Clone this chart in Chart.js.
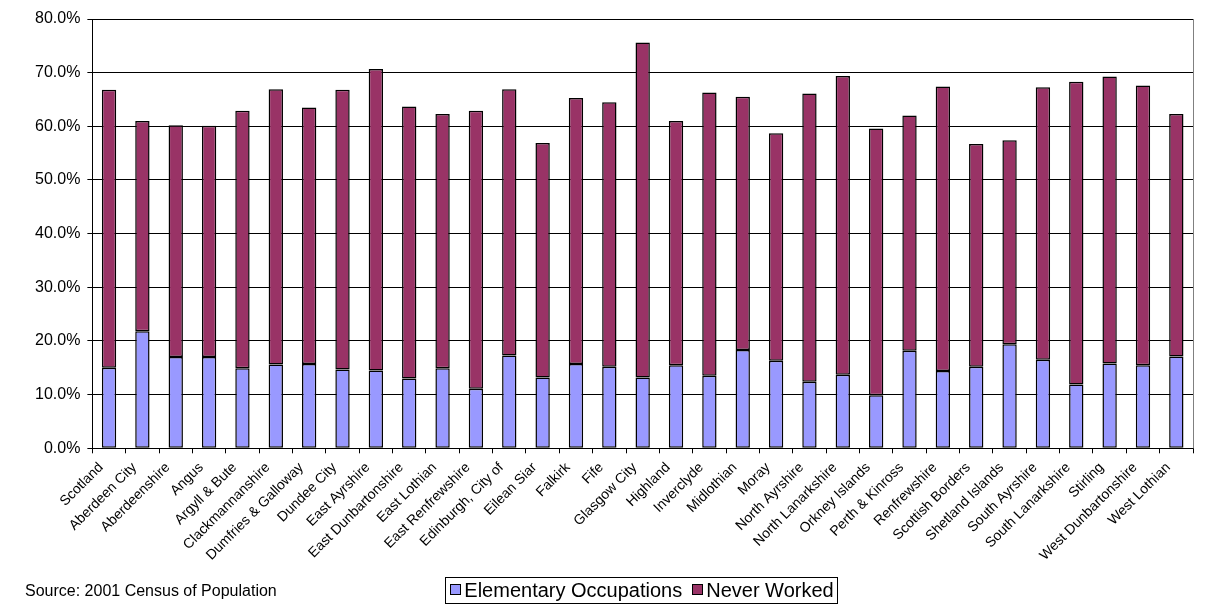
<!DOCTYPE html>
<html>
<head>
<meta charset="utf-8">
<script src="https://cdn.jsdelivr.net/npm/chart.js@4"></script>
<style>
  html, body { margin: 0; padding: 0; background: #fff; }
  #wrap { width: 1227px; height: 607px; }
</style>
</head>
<body>
<div id="wrap"><canvas id="myChart"></canvas></div>
<script>
const areas = ['Scotland', 'Aberdeen City', 'Aberdeenshire', 'Angus', 'Argyll & Bute',
    'Clackmannanshire', 'Dumfries & Galloway', 'Dundee City', 'East Ayrshire',
    'East Dunbartonshire', 'East Lothian', 'East Renfrewshire', 'Edinburgh, City of',
    'Eilean Siar', 'Falkirk', 'Fife', 'Glasgow City', 'Highland', 'Inverclyde',
    'Midlothian', 'Moray', 'North Ayrshire', 'North Lanarkshire', 'Orkney Islands',
    'Perth & Kinross', 'Renfrewshire', 'Scottish Borders', 'Shetland Islands',
    'South Ayrshire', 'South Lanarkshire', 'Stirling', 'West Dunbartonshire', 'West Lothian'];

// % of group in elementary occupations
const elementary = [15.0, 21.8, 17.0, 17.0, 14.9, 15.6, 15.7, 14.7, 14.5, 13.0,
    14.9, 11.1, 17.3, 13.2, 15.7, 15.2, 13.2, 15.5, 13.5, 18.3, 16.3, 12.4,
    13.7, 9.9, 18.2, 14.4, 15.2, 19.4, 16.5, 11.9, 15.8, 15.5, 17.1];

// % never worked (stacked on top)
const neverWorked = [51.8, 39.2, 43.2, 43.1, 48.0, 51.3, 47.8, 52.1, 56.2, 50.7,
    47.4, 51.8, 49.6, 43.7, 49.6, 49.3, 62.4, 45.5, 52.8, 47.2, 42.4, 53.7,
    55.7, 49.7, 43.8, 53.0, 41.5, 38.0, 50.8, 56.4, 53.5, 52.1, 45.2];

const yTicks = [0, 10, 20, 30, 40, 50, 60, 70, 80];
const sourceText = 'Source: 2001 Census of Population';

const FONT = '"Liberation Sans", Arial, sans-serif';

// grey right edge of plot area
const frame = {
    id: 'frame',
    beforeDatasetsDraw(chart) {
        const a = chart.chartArea;
        const c = chart.ctx;
        c.save();
        c.strokeStyle = '#808080';
        c.lineWidth = 1;
        c.beginPath();
        c.moveTo(Math.round(a.right) + 0.5, a.top);
        c.lineTo(Math.round(a.right) + 0.5, a.bottom);
        c.stroke();
        c.restore();
    }
};

// source note + boxed legend like the excel original
const footer = {
    id: 'footer',
    afterDraw(chart) {
        const c = chart.ctx;
        c.save();
        c.fillStyle = '#000';
        c.textBaseline = 'middle';
        c.font = '16px ' + FONT;
        c.fillText(sourceText, 25, 592);

        c.font = '20px ' + FONT;
        const sets = chart.data.datasets;
        const box = 10, gap = 4, between = 10;
        let total = 0;
        sets.forEach(ds => total += box + gap + c.measureText(ds.label).width);
        total += between * (sets.length - 1);
        const cx = 642, cy = 590;
        let x = cx - total / 2;
        c.strokeStyle = '#000';
        c.lineWidth = 1;
        c.strokeRect(Math.round(x - 5) + 0.5, cy - 13 + 0.5, Math.round(total + 9), 26);
        sets.forEach(ds => {
            c.fillStyle = ds.backgroundColor;
            c.fillRect(Math.round(x) + 0.5, cy - 5.5, box, box);
            c.strokeRect(Math.round(x) + 0.5, cy - 5.5, box, box);
            x += box + gap;
            c.fillStyle = '#000';
            c.fillText(ds.label, x, cy + 1);
            x += c.measureText(ds.label).width + between;
        });
        c.restore();
    }
};

new Chart(document.getElementById('myChart'), {
    type: 'bar',
    data: {
        labels: areas,
        datasets: [{
            label: 'Elementary Occupations',
            data: elementary,
            backgroundColor: '#9999FF',
            borderColor: '#000',
            borderWidth: 1.5,
            borderSkipped: false,
            barPercentage: 0.43,
            categoryPercentage: 1
        }, {
            label: 'Never Worked',
            data: neverWorked,
            backgroundColor: '#993366',
            borderColor: '#000',
            borderWidth: 1.5,
            borderSkipped: false,
            barPercentage: 0.43,
            categoryPercentage: 1
        }]
    },
    options: {
        responsive: true,
        maintainAspectRatio: false,
        animation: false,
        layout: { padding: { top: 19, left: 28, right: 34, bottom: 37 } },
        plugins: {
            legend: { display: false },
            tooltip: { enabled: false }
        },
        scales: {
            x: {
                stacked: true,
                grid: {
                    offset: true,
                    drawOnChartArea: false,
                    color: '#000',
                    tickLength: 5
                },
                border: { color: '#000', width: 1 },
                ticks: {
                    color: '#000',
                    font: { family: FONT, size: 14 },
                    maxRotation: 45,
                    minRotation: 45,
                    autoSkip: false,
                    padding: 6,
                    labelOffset: -8
                }
            },
            y: {
                stacked: true,
                min: 0,
                max: 80,
                afterBuildTicks(axis) {
                    axis.ticks = yTicks.map(v => ({ value: v }));
                },
                grid: {
                    color: '#000',
                    tickLength: 5
                },
                border: { color: '#000', width: 1 },
                ticks: {
                    color: '#000',
                    font: { family: FONT, size: 16 },
                    padding: 7,
                    callback: v => v.toFixed(1) + '%'
                }
            }
        }
    },
    plugins: [frame, footer]
});
</script>
</body>
</html>
